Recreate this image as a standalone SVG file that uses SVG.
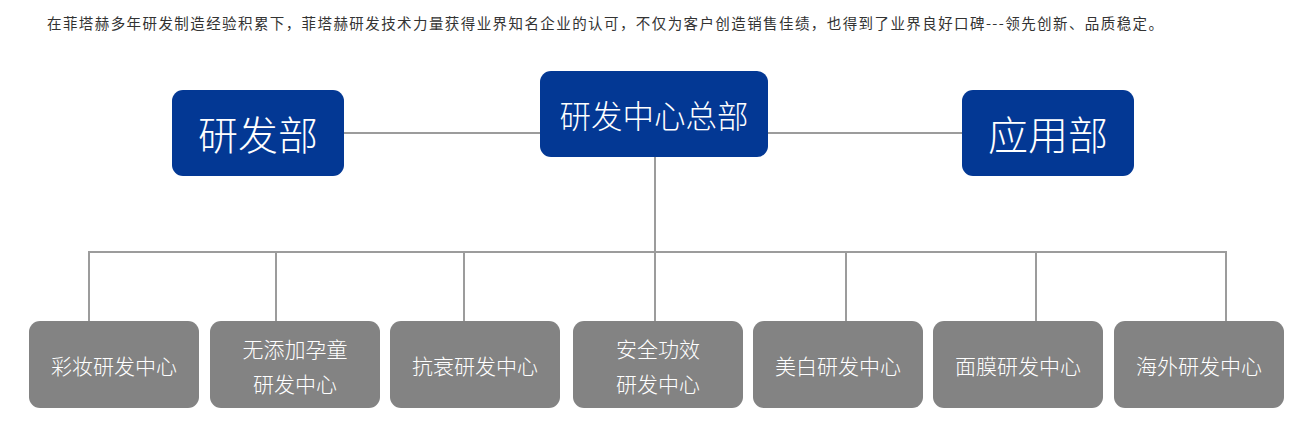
<svg xmlns="http://www.w3.org/2000/svg" width="1315" height="422" viewBox="0 0 1315 422">
<style>
text{font-family:"Noto Sans CJK SC","Noto Sans",sans-serif;}
.intro{font-size:14.5px;fill:#333;}
.top rect{fill:#033894;}
.bot rect{fill:#838383;}
.top text,.bot text{fill:#fff;text-anchor:middle;dominant-baseline:central;font-weight:300;}
.big{font-size:40px;}
.mid{font-size:31.5px;}
.sm{font-size:21px;}
.conn{stroke:#9c9c9c;stroke-width:2;fill:none;}
</style>
<rect width="1315" height="422" fill="#fff"/>
<text class="intro" x="47" y="29" textLength="1116" lengthAdjust="spacing">在菲塔赫多年研发制造经验积累下，菲塔赫研发技术力量获得业界知名企业的认可，不仅为客户创造销售佳绩，也得到了业界良好口碑---领先创新、品质稳定。</text>
<g id="connectors" class="conn">
<path d="M344 133H540M768 133H962"/>
<path d="M655 156V252"/>
<path d="M89 321V252H1226V321"/>
<path d="M276 252V321M464 252V321M655 252V321M846 252V321M1036 252V321"/>
</g>
<g id="n-yanfabu" class="top"><rect x="172" y="90" width="172" height="86" rx="11"/><text class="big" x="258" y="133">研发部</text></g>
<g id="n-zongbu" class="top"><rect x="540" y="71" width="228" height="86" rx="11"/><text class="mid" x="654" y="114">研发中心总部</text></g>
<g id="n-yingyongbu" class="top"><rect x="962" y="90" width="172" height="86" rx="11"/><text class="big" x="1048" y="133">应用部</text></g>
<g id="n-caizhuang" class="bot"><rect x="29" y="321" width="170" height="87" rx="11"/><text class="sm" x="114" y="365">彩妆研发中心</text></g>
<g id="n-wutianjia" class="bot"><rect x="210" y="321" width="170" height="87" rx="11"/><text class="sm" x="295" y="348">无添加孕童</text><text class="sm" x="295" y="383">研发中心</text></g>
<g id="n-kangshuai" class="bot"><rect x="390" y="321" width="170" height="87" rx="11"/><text class="sm" x="475" y="365">抗衰研发中心</text></g>
<g id="n-anquan" class="bot"><rect x="573" y="321" width="170" height="87" rx="11"/><text class="sm" x="658" y="348">安全功效</text><text class="sm" x="658" y="383">研发中心</text></g>
<g id="n-meibai" class="bot"><rect x="753" y="321" width="170" height="87" rx="11"/><text class="sm" x="838" y="365">美白研发中心</text></g>
<g id="n-mianmo" class="bot"><rect x="933" y="321" width="170" height="87" rx="11"/><text class="sm" x="1018" y="365">面膜研发中心</text></g>
<g id="n-haiwai" class="bot"><rect x="1114" y="321" width="170" height="87" rx="11"/><text class="sm" x="1199" y="365">海外研发中心</text></g>
</svg>
